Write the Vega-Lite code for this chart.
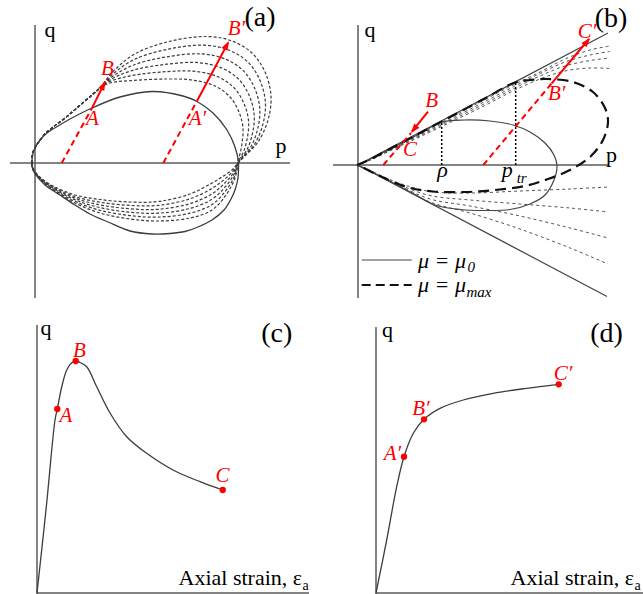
{
  "$schema": "https://vega.github.io/schema/vega-lite/v6.json",
  "background": "white",
  "padding": 0,
  "bounds": "flush",
  "spacing": 0,
  "columns": 2,
  "config": {"view": {"stroke": null}, "font": "Liberation Serif"},
  "datasets": {
    "a_solid": [
      {"p":-0.033,"q":0},{"p":-0.01,"q":0.13},{"p":0.05,"q":0.23},{"p":0.12,"q":0.3},{"p":0.23,"q":0.37},{"p":0.35,"q":0.44},{"p":0.57,"q":0.55},{"p":0.85,"q":0.66},{"p":1.17,"q":0.715},{"p":1.48,"q":0.67},{"p":1.62,"q":0.615},{"p":1.78,"q":0.5},{"p":1.92,"q":0.33},{"p":2.0,"q":0.16},{"p":2.035,"q":0.01},{"p":2.035,"q":-0.05},{"p":2.03,"q":-0.15},{"p":2.0,"q":-0.27},{"p":1.96,"q":-0.36},{"p":1.89,"q":-0.47},{"p":1.77,"q":-0.57},{"p":1.63,"q":-0.64},{"p":1.5,"q":-0.685},{"p":1.35,"q":-0.705},{"p":1.17,"q":-0.71},{"p":0.95,"q":-0.68},{"p":0.73,"q":-0.59},{"p":0.55,"q":-0.51},{"p":0.4,"q":-0.42},{"p":0.25,"q":-0.32},{"p":0.1,"q":-0.22},{"p":0.01,"q":-0.12},{"p":-0.033,"q":-0.03},{"p":-0.033,"q":0}
    ],
    "a_dash": [
      {"c":1,"p":-0.033,"q":0},{"c":1,"p":-0.02,"q":0.11},{"c":1,"p":0.03,"q":0.2},{"c":1,"p":0.1,"q":0.29},{"c":1,"p":0.18,"q":0.36},{"c":1,"p":0.3,"q":0.45},{"c":1,"p":0.43,"q":0.56},{"c":1,"p":0.57,"q":0.68},{"c":1,"p":0.65,"q":0.75},
      {"c":1,"p":0.75,"q":0.8},{"c":1,"p":0.98,"q":0.825},{"c":1,"p":1.32,"q":0.84},{"c":1,"p":1.57,"q":0.83},{"c":1,"p":1.8,"q":0.77},{"c":1,"p":1.95,"q":0.66},{"c":1,"p":2.04,"q":0.51},{"c":1,"p":2.08,"q":0.35},{"c":1,"p":2.07,"q":0.2},{"c":1,"p":2.05,"q":0.09},{"c":1,"p":2.03,"q":0.03},{"c":1,"p":2.03,"q":0},
      {"c":1,"p":2.0,"q":-0.15},{"c":1,"p":1.91,"q":-0.32},{"c":1,"p":1.77,"q":-0.47},{"c":1,"p":1.55,"q":-0.55},{"c":1,"p":1.23,"q":-0.58},{"c":1,"p":0.95,"q":-0.56},{"c":1,"p":0.65,"q":-0.5},{"c":1,"p":0.4,"q":-0.4},{"c":1,"p":0.2,"q":-0.28},{"c":1,"p":0.07,"q":-0.18},{"c":1,"p":-0.01,"q":-0.09},{"c":1,"p":-0.033,"q":0},

      {"c":2,"p":-0.033,"q":0},{"c":2,"p":-0.02,"q":0.11},{"c":2,"p":0.03,"q":0.2},{"c":2,"p":0.1,"q":0.29},{"c":2,"p":0.18,"q":0.36},{"c":2,"p":0.3,"q":0.45},{"c":2,"p":0.43,"q":0.56},{"c":2,"p":0.57,"q":0.68},{"c":2,"p":0.65,"q":0.75},
      {"c":2,"p":0.75,"q":0.816},{"c":2,"p":0.98,"q":0.876},{"c":2,"p":1.32,"q":0.914},{"c":2,"p":1.6,"q":0.917},{"c":2,"p":1.834,"q":0.86},{"c":2,"p":1.994,"q":0.748},{"c":2,"p":2.092,"q":0.59},{"c":2,"p":2.136,"q":0.414},{"c":2,"p":2.122,"q":0.246},{"c":2,"p":2.086,"q":0.114},{"c":2,"p":2.046,"q":0.04},{"c":2,"p":2.03,"q":0},
      {"c":2,"p":1.994,"q":-0.134},{"c":2,"p":1.902,"q":-0.284},{"c":2,"p":1.77,"q":-0.416},{"c":2,"p":1.55,"q":-0.502},{"c":2,"p":1.23,"q":-0.541},{"c":2,"p":0.95,"q":-0.526},{"c":2,"p":0.65,"q":-0.473},{"c":2,"p":0.4,"q":-0.384},{"c":2,"p":0.2,"q":-0.272},{"c":2,"p":0.07,"q":-0.176},{"c":2,"p":-0.01,"q":-0.086},{"c":2,"p":-0.033,"q":0},

      {"c":3,"p":-0.033,"q":0},{"c":3,"p":-0.02,"q":0.11},{"c":3,"p":0.03,"q":0.2},{"c":3,"p":0.1,"q":0.29},{"c":3,"p":0.18,"q":0.36},{"c":3,"p":0.3,"q":0.45},{"c":3,"p":0.43,"q":0.56},{"c":3,"p":0.57,"q":0.68},{"c":3,"p":0.65,"q":0.75},
      {"c":3,"p":0.75,"q":0.832},{"c":3,"p":0.98,"q":0.927},{"c":3,"p":1.32,"q":0.988},{"c":3,"p":1.63,"q":1.004},{"c":3,"p":1.868,"q":0.95},{"c":3,"p":2.038,"q":0.836},{"c":3,"p":2.144,"q":0.67},{"c":3,"p":2.192,"q":0.478},{"c":3,"p":2.174,"q":0.292},{"c":3,"p":2.122,"q":0.138},{"c":3,"p":2.062,"q":0.05},{"c":3,"p":2.03,"q":0},
      {"c":3,"p":1.988,"q":-0.118},{"c":3,"p":1.894,"q":-0.248},{"c":3,"p":1.77,"q":-0.362},{"c":3,"p":1.55,"q":-0.454},{"c":3,"p":1.23,"q":-0.502},{"c":3,"p":0.95,"q":-0.492},{"c":3,"p":0.65,"q":-0.446},{"c":3,"p":0.4,"q":-0.368},{"c":3,"p":0.2,"q":-0.264},{"c":3,"p":0.07,"q":-0.172},{"c":3,"p":-0.01,"q":-0.082},{"c":3,"p":-0.033,"q":0},

      {"c":4,"p":-0.033,"q":0},{"c":4,"p":-0.02,"q":0.11},{"c":4,"p":0.03,"q":0.2},{"c":4,"p":0.1,"q":0.29},{"c":4,"p":0.18,"q":0.36},{"c":4,"p":0.3,"q":0.45},{"c":4,"p":0.43,"q":0.56},{"c":4,"p":0.57,"q":0.68},{"c":4,"p":0.65,"q":0.75},
      {"c":4,"p":0.75,"q":0.848},{"c":4,"p":0.98,"q":0.978},{"c":4,"p":1.32,"q":1.062},{"c":4,"p":1.66,"q":1.091},{"c":4,"p":1.902,"q":1.04},{"c":4,"p":2.082,"q":0.924},{"c":4,"p":2.196,"q":0.75},{"c":4,"p":2.248,"q":0.542},{"c":4,"p":2.226,"q":0.338},{"c":4,"p":2.158,"q":0.162},{"c":4,"p":2.078,"q":0.06},{"c":4,"p":2.03,"q":0},
      {"c":4,"p":1.982,"q":-0.102},{"c":4,"p":1.886,"q":-0.212},{"c":4,"p":1.77,"q":-0.308},{"c":4,"p":1.55,"q":-0.406},{"c":4,"p":1.23,"q":-0.463},{"c":4,"p":0.95,"q":-0.458},{"c":4,"p":0.65,"q":-0.419},{"c":4,"p":0.4,"q":-0.352},{"c":4,"p":0.2,"q":-0.256},{"c":4,"p":0.07,"q":-0.168},{"c":4,"p":-0.01,"q":-0.078},{"c":4,"p":-0.033,"q":0},

      {"c":5,"p":-0.033,"q":0},{"c":5,"p":-0.02,"q":0.11},{"c":5,"p":0.03,"q":0.2},{"c":5,"p":0.1,"q":0.29},{"c":5,"p":0.18,"q":0.36},{"c":5,"p":0.3,"q":0.45},{"c":5,"p":0.43,"q":0.56},{"c":5,"p":0.57,"q":0.68},{"c":5,"p":0.65,"q":0.75},
      {"c":5,"p":0.75,"q":0.864},{"c":5,"p":0.98,"q":1.029},{"c":5,"p":1.32,"q":1.136},{"c":5,"p":1.69,"q":1.178},{"c":5,"p":1.936,"q":1.13},{"c":5,"p":2.126,"q":1.012},{"c":5,"p":2.248,"q":0.83},{"c":5,"p":2.304,"q":0.606},{"c":5,"p":2.278,"q":0.384},{"c":5,"p":2.194,"q":0.186},{"c":5,"p":2.094,"q":0.07},{"c":5,"p":2.03,"q":0},
      {"c":5,"p":1.976,"q":-0.086},{"c":5,"p":1.878,"q":-0.176},{"c":5,"p":1.77,"q":-0.254},{"c":5,"p":1.55,"q":-0.358},{"c":5,"p":1.23,"q":-0.424},{"c":5,"p":0.95,"q":-0.424},{"c":5,"p":0.65,"q":-0.392},{"c":5,"p":0.4,"q":-0.336},{"c":5,"p":0.2,"q":-0.248},{"c":5,"p":0.07,"q":-0.164},{"c":5,"p":-0.01,"q":-0.074},{"c":5,"p":-0.033,"q":0},

      {"c":6,"p":-0.033,"q":0},{"c":6,"p":-0.02,"q":0.11},{"c":6,"p":0.03,"q":0.2},{"c":6,"p":0.1,"q":0.29},{"c":6,"p":0.18,"q":0.36},{"c":6,"p":0.3,"q":0.45},{"c":6,"p":0.43,"q":0.56},{"c":6,"p":0.57,"q":0.68},{"c":6,"p":0.65,"q":0.75},
      {"c":6,"p":0.75,"q":0.88},{"c":6,"p":0.98,"q":1.08},{"c":6,"p":1.32,"q":1.21},{"c":6,"p":1.72,"q":1.265},{"c":6,"p":1.97,"q":1.22},{"c":6,"p":2.17,"q":1.1},{"c":6,"p":2.3,"q":0.91},{"c":6,"p":2.36,"q":0.67},{"c":6,"p":2.33,"q":0.43},{"c":6,"p":2.23,"q":0.21},{"c":6,"p":2.11,"q":0.08},{"c":6,"p":2.03,"q":0},
      {"c":6,"p":1.97,"q":-0.07},{"c":6,"p":1.87,"q":-0.14},{"c":6,"p":1.77,"q":-0.2},{"c":6,"p":1.55,"q":-0.31},{"c":6,"p":1.23,"q":-0.385},{"c":6,"p":0.95,"q":-0.39},{"c":6,"p":0.65,"q":-0.365},{"c":6,"p":0.4,"q":-0.32},{"c":6,"p":0.2,"q":-0.24},{"c":6,"p":0.07,"q":-0.16},{"c":6,"p":-0.01,"q":-0.07},{"c":6,"p":-0.033,"q":0}
    ],
    "b_solid": [
      {"p":-0.01,"q":0},{"p":0.07,"q":0.035},{"p":0.22,"q":0.11},{"p":0.42,"q":0.21},{"p":0.62,"q":0.315},{"p":0.84,"q":0.43},{"p":1.07,"q":0.45},{"p":1.32,"q":0.44},{"p":1.55,"q":0.4},{"p":1.72,"q":0.33},{"p":1.87,"q":0.22},{"p":1.96,"q":0.1},{"p":1.99,"q":-0.01},{"p":1.96,"q":-0.15},{"p":1.87,"q":-0.3},{"p":1.72,"q":-0.39},{"p":1.52,"q":-0.445},{"p":1.27,"q":-0.455},{"p":1.02,"q":-0.445},{"p":0.77,"q":-0.4},{"p":0.57,"q":-0.295},{"p":0.37,"q":-0.19},{"p":0.17,"q":-0.085},{"p":0.07,"q":-0.04},{"p":-0.01,"q":0}
    ],
    "b_max": [
      {"p":-0.01,"q":0},{"p":0.1,"q":0.045},{"p":0.25,"q":0.125},{"p":0.42,"q":0.215},{"p":0.62,"q":0.32},{"p":0.92,"q":0.48},{"p":1.25,"q":0.655},{"p":1.577,"q":0.828},{"p":1.72,"q":0.85},{"p":1.89,"q":0.86},{"p":2.15,"q":0.83},{"p":2.35,"q":0.73},{"p":2.47,"q":0.57},{"p":2.5,"q":0.43},{"p":2.45,"q":0.25},{"p":2.33,"q":0.09},{"p":2.14,"q":-0.04},{"p":1.9,"q":-0.14},{"p":1.67,"q":-0.21},{"p":1.37,"q":-0.25},{"p":1.07,"q":-0.27},{"p":0.75,"q":-0.265},{"p":0.49,"q":-0.22},{"p":0.22,"q":-0.11},{"p":0.06,"q":-0.03},{"p":-0.01,"q":0}
    ],
    "b_fan": [
      {"f":1,"p":-0.01,"q":0},{"f":1,"p":0.1,"q":0.045},{"f":1,"p":0.25,"q":0.12},{"f":1,"p":0.42,"q":0.21},{"f":1,"p":0.62,"q":0.312},{"f":1,"p":0.92,"q":0.47},{"f":1,"p":1.25,"q":0.645},{"f":1,"p":1.55,"q":0.8},{"f":1,"p":1.82,"q":0.93},{"f":1,"p":2.07,"q":1.06},{"f":1,"p":2.32,"q":1.15},{"f":1,"p":2.52,"q":1.19},
      {"f":2,"p":-0.01,"q":0},{"f":2,"p":0.1,"q":0.043},{"f":2,"p":0.25,"q":0.116},{"f":2,"p":0.42,"q":0.203},{"f":2,"p":0.62,"q":0.302},{"f":2,"p":0.92,"q":0.455},{"f":2,"p":1.25,"q":0.625},{"f":2,"p":1.55,"q":0.78},{"f":2,"p":1.82,"q":0.915},{"f":2,"p":2.07,"q":1.03},{"f":2,"p":2.32,"q":1.1},{"f":2,"p":2.52,"q":1.135},
      {"f":3,"p":-0.01,"q":0},{"f":3,"p":0.1,"q":0.041},{"f":3,"p":0.25,"q":0.112},{"f":3,"p":0.42,"q":0.196},{"f":3,"p":0.62,"q":0.292},{"f":3,"p":0.92,"q":0.44},{"f":3,"p":1.25,"q":0.605},{"f":3,"p":1.55,"q":0.76},{"f":3,"p":1.82,"q":0.89},{"f":3,"p":2.07,"q":0.99},{"f":3,"p":2.32,"q":1.045},{"f":3,"p":2.52,"q":1.07},
      {"f":4,"p":-0.01,"q":0},{"f":4,"p":0.1,"q":0.039},{"f":4,"p":0.25,"q":0.108},{"f":4,"p":0.42,"q":0.189},{"f":4,"p":0.62,"q":0.282},{"f":4,"p":0.92,"q":0.425},{"f":4,"p":1.25,"q":0.585},{"f":4,"p":1.55,"q":0.74},{"f":4,"p":1.82,"q":0.86},{"f":4,"p":2.07,"q":0.94},{"f":4,"p":2.32,"q":0.97},{"f":4,"p":2.52,"q":0.965},
      {"f":5,"p":-0.01,"q":0},{"f":5,"p":0.1,"q":-0.045},{"f":5,"p":0.25,"q":-0.115},{"f":5,"p":0.42,"q":-0.185},{"f":5,"p":0.72,"q":-0.265},{"f":5,"p":1.12,"q":-0.28},{"f":5,"p":1.62,"q":-0.26},{"f":5,"p":2.12,"q":-0.24},{"f":5,"p":2.5,"q":-0.22},
      {"f":6,"p":-0.01,"q":0},{"f":6,"p":0.1,"q":-0.048},{"f":6,"p":0.25,"q":-0.122},{"f":6,"p":0.42,"q":-0.2},{"f":6,"p":0.72,"q":-0.305},{"f":6,"p":1.12,"q":-0.35},{"f":6,"p":1.62,"q":-0.39},{"f":6,"p":2.12,"q":-0.43},{"f":6,"p":2.5,"q":-0.47},
      {"f":7,"p":-0.01,"q":0},{"f":7,"p":0.1,"q":-0.05},{"f":7,"p":0.25,"q":-0.127},{"f":7,"p":0.42,"q":-0.21},{"f":7,"p":0.72,"q":-0.34},{"f":7,"p":1.12,"q":-0.41},{"f":7,"p":1.62,"q":-0.51},{"f":7,"p":2.12,"q":-0.63},{"f":7,"p":2.5,"q":-0.73},
      {"f":8,"p":-0.01,"q":0},{"f":8,"p":0.1,"q":-0.052},{"f":8,"p":0.25,"q":-0.13},{"f":8,"p":0.42,"q":-0.217},{"f":8,"p":0.72,"q":-0.37},{"f":8,"p":1.12,"q":-0.48},{"f":8,"p":1.62,"q":-0.64},{"f":8,"p":2.12,"q":-0.83},{"f":8,"p":2.5,"q":-0.99}
    ],
    "c_curve": [
      {"p":0,"q":0},{"p":0.095,"q":0.88},{"p":0.18,"q":1.73},{"p":0.203,"q":1.84},{"p":0.247,"q":2.06},{"p":0.297,"q":2.23},{"p":0.347,"q":2.303},{"p":0.387,"q":2.32},{"p":0.43,"q":2.305},{"p":0.497,"q":2.263},{"p":0.597,"q":2.063},{"p":0.73,"q":1.8},{"p":0.897,"q":1.563},{"p":1.097,"q":1.397},{"p":1.36,"q":1.23},{"p":1.63,"q":1.113},{"p":1.857,"q":1.03}
    ],
    "d_curve": [
      {"p":0,"q":0},{"p":0.107,"q":0.53},{"p":0.207,"q":1.063},{"p":0.28,"q":1.363},{"p":0.373,"q":1.597},{"p":0.48,"q":1.737},{"p":0.64,"q":1.847},{"p":0.873,"q":1.93},{"p":1.173,"q":1.997},{"p":1.507,"q":2.047},{"p":1.827,"q":2.087}
    ]
  },
  "concat": [
    {
      "width": 320,
      "height": 300,
      "encoding": {
        "x": {"field": "p", "type": "quantitative", "scale": {"domain": [-0.35, 2.85], "nice": false, "zero": false}, "axis": null},
        "y": {"field": "q", "type": "quantitative", "scale": {"domain": [-1.37, 1.63], "nice": false, "zero": false}, "axis": null}
      },
      "layer": [
        {"data": {"values": [{"p":0,"q":1.38,"p2":0,"q2":-1.35},{"p":-0.25,"q":0,"p2":2.55,"q2":0}]},
         "mark": {"type": "rule", "color": "#5a5a5a", "strokeWidth": 1.5},
         "encoding": {"x2": {"field": "p2"}, "y2": {"field": "q2"}}},
        {"data": {"name": "a_dash"},
         "mark": {"type": "line", "color": "#3c3c3c", "strokeWidth": 1.2, "strokeDash": [3, 2], "interpolate": "catmull-rom"},
         "encoding": {"detail": {"field": "c", "type": "nominal"}, "order": {"value": null}}},
        {"data": {"name": "a_solid"},
         "mark": {"type": "line", "color": "#3c3c3c", "strokeWidth": 1.3, "interpolate": "catmull-rom"},
         "encoding": {"order": {"value": null}}},
        {"data": {"values": [{"p":0.267,"q":0,"p2":0.57,"q2":0.55},{"p":1.283,"q":0,"p2":1.62,"q2":0.62}]},
         "mark": {"type": "rule", "color": "#ff0000", "strokeWidth": 2, "strokeDash": [6, 4]},
         "encoding": {"x2": {"field": "p2"}, "y2": {"field": "q2"}}},
        {"data": {"values": [{"p":0.57,"q":0.55,"p2":0.7,"q2":0.81},{"p":1.62,"q":0.62,"p2":1.93,"q2":1.2}]},
         "mark": {"type": "rule", "color": "#ff0000", "strokeWidth": 2},
         "encoding": {"x2": {"field": "p2"}, "y2": {"field": "q2"}}},
        {"data": {"values": [{"p":0.684,"q":0.778}]},
         "mark": {"type": "point", "shape": "M0,-1L0.7,1L-0.7,1Z", "size": 90, "filled": true, "color": "#ff0000", "opacity": 1, "angle": 26.6}},
        {"data": {"values": [{"p":1.918,"q":1.179}]},
         "mark": {"type": "point", "shape": "M0,-1L0.7,1L-0.7,1Z", "size": 90, "filled": true, "color": "#ff0000", "opacity": 1, "angle": 28.4}},
        {"data": {"values": [{"p":0.575,"q":0.38,"t":"A"},{"p":0.725,"q":0.88,"t":"B"},{"p":1.625,"q":0.38,"t":"A′"},{"p":2.015,"q":1.28,"t":"B′"}]},
         "mark": {"type": "text", "font": "Liberation Serif", "fontSize": 21, "fontStyle": "italic", "color": "#ff0000", "align": "center", "baseline": "alphabetic"},
         "encoding": {"text": {"field": "t"}}},
        {"data": {"values": [{"p":0.15,"q":1.263,"t":"q"},{"p":2.46,"q":0.097,"t":"p"}]},
         "mark": {"type": "text", "font": "Liberation Serif", "fontSize": 22, "color": "#000000", "align": "center", "baseline": "alphabetic"},
         "encoding": {"text": {"field": "t"}}},
        {"data": {"values": [{"p":2.25,"q":1.373,"t":"(a)"}]},
         "mark": {"type": "text", "font": "Liberation Serif", "fontSize": 28, "color": "#000000", "align": "center", "baseline": "alphabetic"},
         "encoding": {"text": {"field": "t"}}}
      ]
    },
    {
      "width": 323,
      "height": 300,
      "encoding": {
        "x": {"field": "p", "type": "quantitative", "scale": {"domain": [-0.38, 2.85], "nice": false, "zero": false}, "axis": null},
        "y": {"field": "q", "type": "quantitative", "scale": {"domain": [-1.35, 1.65], "nice": false, "zero": false}, "axis": null}
      },
      "layer": [
        {"data": {"values": [{"p":0,"q":1.4,"p2":0,"q2":-1.33},{"p":-0.25,"q":0,"p2":2.5,"q2":0}]},
         "mark": {"type": "rule", "color": "#5a5a5a", "strokeWidth": 1.5},
         "encoding": {"x2": {"field": "p2"}, "y2": {"field": "q2"}}},
        {"data": {"values": [{"p":0,"q":0,"p2":2.5,"q2":1.32},{"p":0,"q":0,"p2":2.49,"q2":-1.315}]},
         "mark": {"type": "rule", "color": "#444444", "strokeWidth": 1.2},
         "encoding": {"x2": {"field": "p2"}, "y2": {"field": "q2"}}},
        {"data": {"name": "b_fan"},
         "mark": {"type": "line", "color": "#555555", "strokeWidth": 1, "strokeDash": [3, 3], "interpolate": "catmull-rom"},
         "encoding": {"detail": {"field": "f", "type": "nominal"}, "order": {"value": null}}},
        {"data": {"name": "b_solid"},
         "mark": {"type": "line", "color": "#444444", "strokeWidth": 1.2, "interpolate": "catmull-rom"},
         "encoding": {"order": {"value": null}}},
        {"data": {"name": "b_max"},
         "mark": {"type": "line", "color": "#111111", "strokeWidth": 2.2, "strokeDash": [11, 6], "interpolate": "catmull-rom"},
         "encoding": {"order": {"value": null}}},
        {"data": {"values": [{"p":0.837,"q":0,"p2":0.837,"q2":0.43},{"p":1.577,"q":0,"p2":1.577,"q2":0.83}]},
         "mark": {"type": "rule", "color": "#000000", "strokeWidth": 1.5, "strokeDash": [2, 2]},
         "encoding": {"x2": {"field": "p2"}, "y2": {"field": "q2"}}},
        {"data": {"values": [{"p":0.253,"q":0,"p2":0.53,"q2":0.32},{"p":1.253,"q":0,"p2":1.937,"q2":0.817}]},
         "mark": {"type": "rule", "color": "#ff0000", "strokeWidth": 2, "strokeDash": [6, 4]},
         "encoding": {"x2": {"field": "p2"}, "y2": {"field": "q2"}}},
        {"data": {"values": [{"p":0.7,"q":0.533,"p2":0.54,"q2":0.335},{"p":1.937,"q":0.817,"p2":2.31,"q2":1.26}]},
         "mark": {"type": "rule", "color": "#ff0000", "strokeWidth": 2},
         "encoding": {"x2": {"field": "p2"}, "y2": {"field": "q2"}}},
        {"data": {"values": [{"p":0.559,"q":0.357}]},
         "mark": {"type": "point", "shape": "M0,-1L0.7,1L-0.7,1Z", "size": 90, "filled": true, "color": "#ff0000", "opacity": 1, "angle": 218.6}},
        {"data": {"values": [{"p":2.29,"q":1.234}]},
         "mark": {"type": "point", "shape": "M0,-1L0.7,1L-0.7,1Z", "size": 90, "filled": true, "color": "#ff0000", "opacity": 1, "angle": 40.2}},
        {"data": {"values": [{"p":0.037,"q":-0.95,"p2":0.537,"q2":-0.95}]},
         "mark": {"type": "rule", "color": "#444444", "strokeWidth": 1.2},
         "encoding": {"x2": {"field": "p2"}, "y2": {"field": "q2"}}},
        {"data": {"values": [{"p":0.037,"q":-1.2,"p2":0.537,"q2":-1.2}]},
         "mark": {"type": "rule", "color": "#111111", "strokeWidth": 2.2, "strokeDash": [9, 5]},
         "encoding": {"x2": {"field": "p2"}, "y2": {"field": "q2"}}},
        {"data": {"values": [{"p":0.737,"q":0.583,"t":"B"},{"p":0.52,"q":0.09,"t":"C"},{"p":1.987,"q":0.65,"t":"B′"},{"p":2.29,"q":1.27,"t":"C′"}]},
         "mark": {"type": "text", "font": "Liberation Serif", "fontSize": 21, "fontStyle": "italic", "color": "#ff0000", "align": "center", "baseline": "alphabetic"},
         "encoding": {"text": {"field": "t"}}},
        {"data": {"values": [{"p":0.12,"q":1.283,"t":"q"},{"p":2.535,"q":0.035,"t":"p"}]},
         "mark": {"type": "text", "font": "Liberation Serif", "fontSize": 22, "color": "#000000", "align": "center", "baseline": "alphabetic"},
         "encoding": {"text": {"field": "t"}}},
        {"data": {"values": [{"p":2.53,"q":1.38,"t":"(b)"}]},
         "mark": {"type": "text", "font": "Liberation Serif", "fontSize": 28, "color": "#000000", "align": "center", "baseline": "alphabetic"},
         "encoding": {"text": {"field": "t"}}},
        {"data": {"values": [{"p":0.845,"q":-0.117,"t":"ρ"}]},
         "mark": {"type": "text", "font": "Liberation Serif", "fontSize": 22, "fontStyle": "italic", "color": "#000000", "align": "center", "baseline": "alphabetic"},
         "encoding": {"text": {"field": "t"}}},
        {"data": {"values": [{"p":1.437,"q":-0.117,"t":"p"},{"p":0.6,"q":-1.025,"t":"μ = μ"},{"p":0.6,"q":-1.27,"t":"μ = μ"}]},
         "mark": {"type": "text", "font": "Liberation Serif", "fontSize": 22, "fontStyle": "italic", "color": "#000000", "align": "left", "baseline": "alphabetic"},
         "encoding": {"text": {"field": "t"}}},
        {"data": {"values": [{"p":1.587,"q":-0.18,"t":"tr"},{"p":1.095,"q":-1.07,"t":"0"},{"p":1.085,"q":-1.32,"t":"max"}]},
         "mark": {"type": "text", "font": "Liberation Serif", "fontSize": 15, "fontStyle": "italic", "color": "#000000", "align": "left", "baseline": "alphabetic"},
         "encoding": {"text": {"field": "t"}}}
      ]
    },
    {
      "width": 320,
      "height": 294,
      "encoding": {
        "x": {"field": "p", "type": "quantitative", "scale": {"domain": [-0.37, 2.83], "nice": false, "zero": false}, "axis": null},
        "y": {"field": "q", "type": "quantitative", "scale": {"domain": [-0.01, 2.93], "nice": false, "zero": false}, "axis": null}
      },
      "layer": [
        {"data": {"values": [{"p":0,"q":2.68,"p2":0,"q2":-0.01},{"p":0,"q":0,"p2":2.72,"q2":0}]},
         "mark": {"type": "rule", "color": "#5a5a5a", "strokeWidth": 1.5},
         "encoding": {"x2": {"field": "p2"}, "y2": {"field": "q2"}}},
        {"data": {"name": "c_curve"},
         "mark": {"type": "line", "color": "#3c3c3c", "strokeWidth": 1.3, "interpolate": "catmull-rom"},
         "encoding": {"order": {"value": null}}},
        {"data": {"values": [{"p":0.203,"q":1.84},{"p":0.387,"q":2.32},{"p":1.857,"q":1.03}]},
         "mark": {"type": "circle", "size": 40, "color": "#ff0000", "opacity": 1}},
        {"data": {"values": [{"p":0.288,"q":1.713,"t":"A"},{"p":0.425,"q":2.363,"t":"B"},{"p":1.855,"q":1.113,"t":"C"}]},
         "mark": {"type": "text", "font": "Liberation Serif", "fontSize": 21, "fontStyle": "italic", "color": "#ff0000", "align": "center", "baseline": "alphabetic"},
         "encoding": {"text": {"field": "t"}}},
        {"data": {"values": [{"p":0.09,"q":2.58,"t":"q"}]},
         "mark": {"type": "text", "font": "Liberation Serif", "fontSize": 22, "color": "#000000", "align": "center", "baseline": "alphabetic"},
         "encoding": {"text": {"field": "t"}}},
        {"data": {"values": [{"p":2.397,"q":2.51,"t":"(c)"}]},
         "mark": {"type": "text", "font": "Liberation Serif", "fontSize": 28, "color": "#000000", "align": "center", "baseline": "alphabetic"},
         "encoding": {"text": {"field": "t"}}},
        {"data": {"values": [{"p":2.65,"q":0.08,"t":"Axial strain, ε"}]},
         "mark": {"type": "text", "font": "Liberation Serif", "fontSize": 22, "color": "#000000", "align": "right", "baseline": "alphabetic"},
         "encoding": {"text": {"field": "t"}}},
        {"data": {"values": [{"p":2.655,"q":0.03,"t":"a"}]},
         "mark": {"type": "text", "font": "Liberation Serif", "fontSize": 14, "color": "#000000", "align": "left", "baseline": "alphabetic"},
         "encoding": {"text": {"field": "t"}}}
      ]
    },
    {
      "width": 323,
      "height": 294,
      "encoding": {
        "x": {"field": "p", "type": "quantitative", "scale": {"domain": [-0.56, 2.67], "nice": false, "zero": false}, "axis": null},
        "y": {"field": "q", "type": "quantitative", "scale": {"domain": [-0.01, 2.93], "nice": false, "zero": false}, "axis": null}
      },
      "layer": [
        {"data": {"values": [{"p":0,"q":2.66,"p2":0,"q2":-0.01},{"p":0,"q":0,"p2":2.67,"q2":0}]},
         "mark": {"type": "rule", "color": "#5a5a5a", "strokeWidth": 1.5},
         "encoding": {"x2": {"field": "p2"}, "y2": {"field": "q2"}}},
        {"data": {"name": "d_curve"},
         "mark": {"type": "line", "color": "#3c3c3c", "strokeWidth": 1.3, "interpolate": "catmull-rom"},
         "encoding": {"order": {"value": null}}},
        {"data": {"values": [{"p":0.28,"q":1.363},{"p":0.48,"q":1.737},{"p":1.827,"q":2.087}]},
         "mark": {"type": "circle", "size": 40, "color": "#ff0000", "opacity": 1}},
        {"data": {"values": [{"p":0.165,"q":1.33,"t":"A′"},{"p":0.45,"q":1.78,"t":"B′"},{"p":1.87,"q":2.13,"t":"C′"}]},
         "mark": {"type": "text", "font": "Liberation Serif", "fontSize": 21, "fontStyle": "italic", "color": "#ff0000", "align": "center", "baseline": "alphabetic"},
         "encoding": {"text": {"field": "t"}}},
        {"data": {"values": [{"p":0.115,"q":2.563,"t":"q"}]},
         "mark": {"type": "text", "font": "Liberation Serif", "fontSize": 22, "color": "#000000", "align": "center", "baseline": "alphabetic"},
         "encoding": {"text": {"field": "t"}}},
        {"data": {"values": [{"p":2.305,"q":2.51,"t":"(d)"}]},
         "mark": {"type": "text", "font": "Liberation Serif", "fontSize": 28, "color": "#000000", "align": "center", "baseline": "alphabetic"},
         "encoding": {"text": {"field": "t"}}},
        {"data": {"values": [{"p":2.58,"q":0.08,"t":"Axial strain, ε"}]},
         "mark": {"type": "text", "font": "Liberation Serif", "fontSize": 22, "color": "#000000", "align": "right", "baseline": "alphabetic"},
         "encoding": {"text": {"field": "t"}}},
        {"data": {"values": [{"p":2.585,"q":0.03,"t":"a"}]},
         "mark": {"type": "text", "font": "Liberation Serif", "fontSize": 14, "color": "#000000", "align": "left", "baseline": "alphabetic"},
         "encoding": {"text": {"field": "t"}}}
      ]
    }
  ]
}
